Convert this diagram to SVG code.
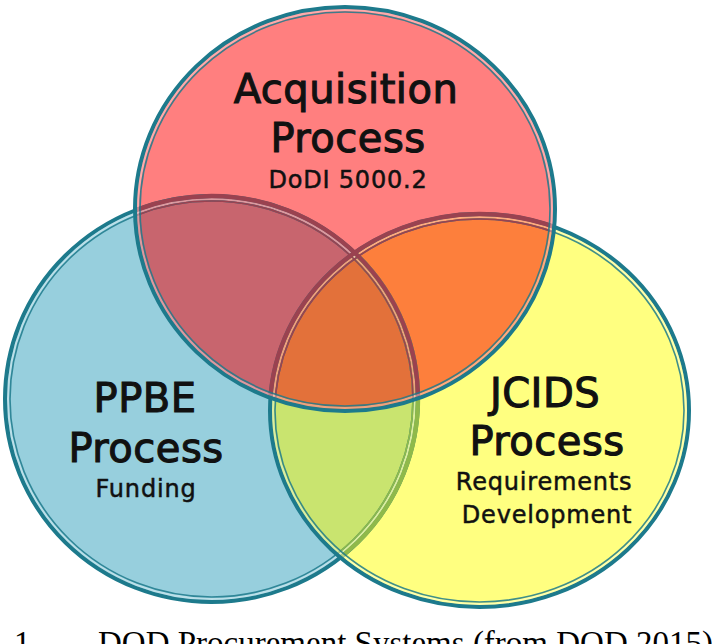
<svg xmlns="http://www.w3.org/2000/svg" width="712" height="644" viewBox="0 0 712 644">
  <style>
    .big { font-family: "DejaVu Sans", "Open Sans", sans-serif; font-size: 40px; fill: #111; stroke: #111; stroke-width: 1.1px; text-anchor: middle; letter-spacing: 0.5px; }
    .small { font-family: "DejaVu Sans", "Open Sans", sans-serif; font-size: 24px; fill: #111; stroke: #111; stroke-width: 0.5px; text-anchor: middle; letter-spacing: 0.8px; }
    .cap { font-family: "Liberation Serif", "Times New Roman", serif; font-size: 33px; fill: #000; }
    .outer { fill: none; stroke: #1d7a8c; stroke-width: 4; }
    .inner { fill: none; stroke: #1d7a8c; stroke-width: 1.6; opacity: 0.85; }
    .gap { fill: none; stroke: #ffffff; stroke-width: 2; opacity: 0.35; }
  </style>
  <defs>
    <ellipse id="eTop" cx="345" cy="209" rx="210" ry="202"/>
    <ellipse id="eLeft" cx="211.5" cy="399" rx="206.5" ry="203"/>
    <ellipse id="eRight" cx="479.5" cy="410.5" rx="209.5" ry="196.5"/>
    <clipPath id="cTop"><ellipse cx="345" cy="209" rx="210" ry="202"/></clipPath>
    <clipPath id="cLeft"><ellipse cx="211.5" cy="399" rx="206.5" ry="203"/></clipPath>
    <clipPath id="cRight"><ellipse cx="479.5" cy="410.5" rx="209.5" ry="196.5"/></clipPath>
  </defs>

  <g id="venn-fills">
    <use href="#eLeft" fill="#97cfdd"/>
    <use href="#eRight" fill="#ffff80"/>
    <use href="#eRight" fill="#c9e46f" clip-path="url(#cLeft)"/>
    <use href="#eTop" fill="#ff7f7f"/>
    <use href="#eTop" fill="#c8656e" clip-path="url(#cLeft)"/>
    <use href="#eTop" fill="#fd7f3c" clip-path="url(#cRight)"/>
    <g clip-path="url(#cLeft)">
      <use href="#eTop" fill="#e3713a" clip-path="url(#cRight)"/>
    </g>
  </g>

  <g id="venn-borders">
    <g id="border-left">
      <ellipse cx="211.5" cy="399" rx="206.5" ry="203" class="outer"/>
      <ellipse cx="211.5" cy="399" rx="203.5" ry="200" class="gap"/>
      <ellipse cx="211.5" cy="399" rx="201.5" ry="198" class="inner"/>
    </g>
    <g clip-path="url(#cRight)">
      <ellipse cx="211.5" cy="399" rx="206.5" ry="203" fill="none" stroke="#8fb94a" stroke-width="4.4"/>
      <ellipse cx="211.5" cy="399" rx="201.5" ry="198" fill="none" stroke="#8fb94a" stroke-width="1.6"/>
    </g>
    <g id="border-right">
      <ellipse cx="479.5" cy="410.5" rx="209.5" ry="196.5" class="outer"/>
      <ellipse cx="479.5" cy="410.5" rx="206.5" ry="193.5" class="gap"/>
      <ellipse cx="479.5" cy="410.5" rx="204.5" ry="191.5" class="inner"/>
    </g>
    <g clip-path="url(#cTop)">
      <ellipse cx="211.5" cy="399" rx="206.5" ry="203" fill="none" stroke="#9a4250" stroke-width="4.4"/>
      <ellipse cx="211.5" cy="399" rx="201.5" ry="198" fill="none" stroke="#9a4250" stroke-width="1.6"/>
      <ellipse cx="479.5" cy="410.5" rx="209.5" ry="196.5" fill="none" stroke="#9a4250" stroke-width="4.4"/>
      <ellipse cx="479.5" cy="410.5" rx="204.5" ry="191.5" fill="none" stroke="#9a4250" stroke-width="1.6"/>
    </g>
    <g id="border-top">
      <ellipse cx="345" cy="209" rx="210" ry="202" class="outer"/>
      <ellipse cx="345" cy="209" rx="207" ry="199" class="gap"/>
      <ellipse cx="345" cy="209" rx="205" ry="197" class="inner"/>
    </g>
  </g>

  <g id="node-acquisition">
    <text class="big" x="346" y="103">Acquisition</text>
    <text class="big" x="348" y="152">Process</text>
    <text class="small" x="348" y="188">DoDI 5000.2</text>
  </g>
  <g id="node-ppbe">
    <text class="big" x="145" y="412">PPBE</text>
    <text class="big" x="146" y="462">Process</text>
    <text class="small" x="146" y="497">Funding</text>
  </g>
  <g id="node-jcids">
    <text class="big" x="545" y="407">JCIDS</text>
    <text class="big" x="547" y="455">Process</text>
    <text class="small" x="544" y="490">Requirements</text>
    <text class="small" x="547" y="523">Development</text>
  </g>

  <g id="caption">
    <text class="cap" x="14" y="654">1</text>
    <text class="cap" x="98" y="654">DOD Procurement Systems (from DOD 2015)</text>
  </g>
</svg>
